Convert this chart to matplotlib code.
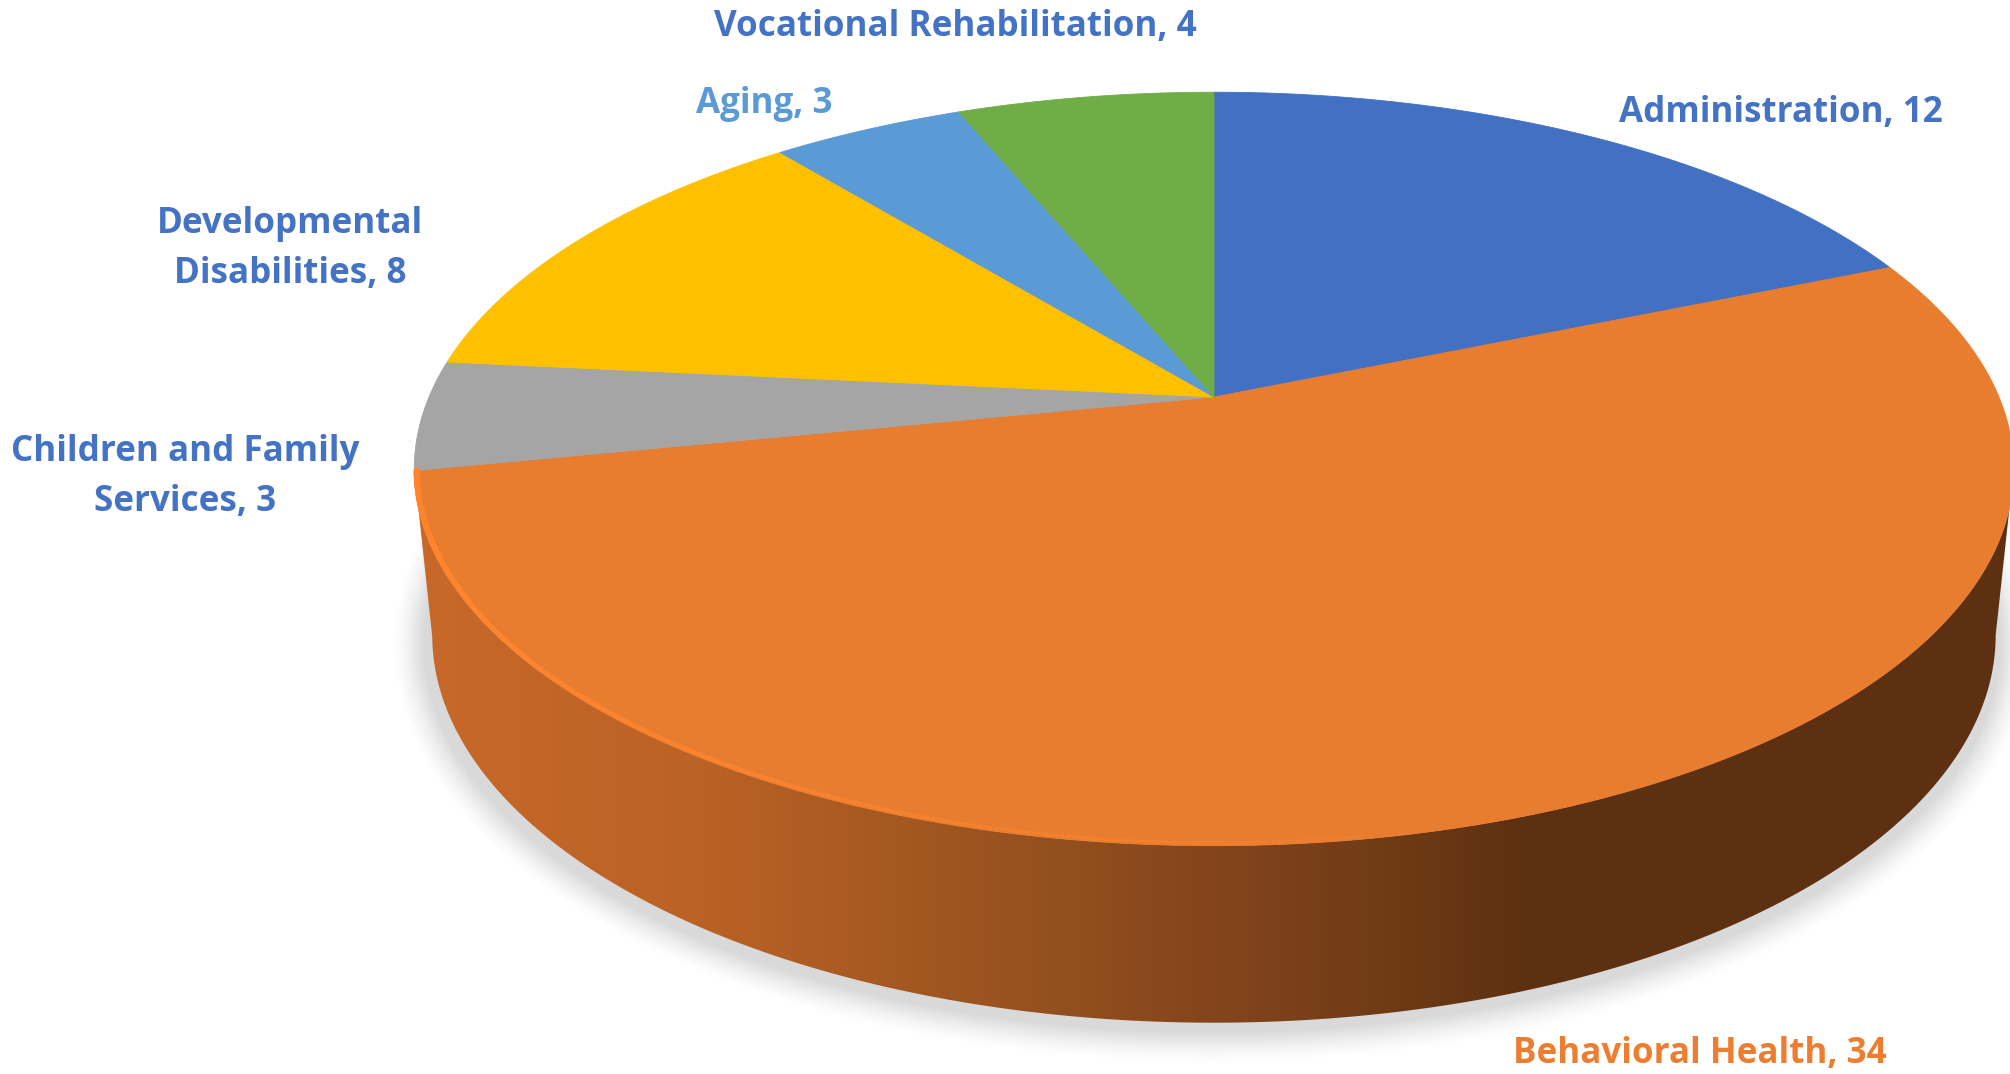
import numpy as np
import matplotlib
matplotlib.use("Agg")
import matplotlib.pyplot as plt
from matplotlib.collections import LineCollection
from matplotlib.colors import LinearSegmentedColormap
from matplotlib.patches import Polygon

plt.rcParams["font.family"] = ["Open Sans", "DejaVu Sans"]

categories = ["Administration", "Behavioral Health", "Children and Family Services",
              "Developmental Disabilities", "Aging", "Vocational Rehabilitation"]
values = [12, 34, 3, 8, 3, 4]
colors = ["#4270C2", "#E87C2F", "#A5A5A5", "#FFC000", "#5B9BD5", "#70AD47"]

# text for each label, its colour and where it sits in image pixels
label_text = ["Administration, 12", "Behavioral Health, 34", "Children and Family\nServices, 3",
              "Developmental\nDisabilities, 8", "Aging, 3", "Vocational Rehabilitation, 4"]
label_color = ["#4472C4", "#ED7D31", "#4472C4", "#4472C4", "#5B9BD5", "#4472C4"]
label_pos = [(1781, 113), (1700, 1054), (185, 477), (290, 249), (764, 104), (955, 27)]

W, H = 2010, 1074

# pie centre and perspective tilt
CX, CY = 1214, 397
A, B, K = 785, 363, 0.191
# the bottom rim is the top ellipse shrunk and moved down
TOP_ELL = (1212, 469, 800, 377)
BOT_ELL = (1212, 635, 782, 388)


def project(theta):
    # theta in radians, clockwise from straight up
    u, v = np.sin(theta), np.cos(theta)
    w = 1 + K * v
    return CX + A * u / w, CY - B * v / w


def to_bottom(x, y):
    sx = BOT_ELL[2] / TOP_ELL[2]
    sy = BOT_ELL[3] / TOP_ELL[3]
    return BOT_ELL[0] + (x - TOP_ELL[0]) * sx, BOT_ELL[1] + (y - TOP_ELL[1]) * sy


fig = plt.figure(figsize=(W / 100, H / 100), dpi=100)
ax = fig.add_axes([0, 0, 1, 1])

# soft shadow under the pie
xx, yy = np.meshgrid(np.arange(W) + 0.5, np.arange(H) + 0.5)
sh_cx, sh_cy, sh_a, sh_b = 1212, 644, 792, 392
r = np.sqrt(((xx - sh_cx) / sh_a) ** 2 + ((yy - sh_cy) / sh_b) ** 2)
grad = np.sqrt(((xx - sh_cx) / sh_a ** 2) ** 2 + ((yy - sh_cy) / sh_b ** 2) ** 2) / np.maximum(r, 1e-6)
dist = (r - 1) / np.maximum(grad, 1e-6)
fade = np.clip(1 - (dist + 4) / 32, 0, 1)
shadow = np.zeros((H, W, 4))
shadow[..., 3] = 0.15 * fade ** 1.4
ax.imshow(shadow, extent=(0, W, H, 0), zorder=1, interpolation="nearest")

# side wall of the orange slice, shaded left to right
fractions = np.cumsum([0] + values) / sum(values) * 2 * np.pi
th_wall = np.linspace(fractions[2], np.radians(101), 300)
x_top, y_top = project(th_wall)
x_bot, y_bot = to_bottom(x_top, y_top)
wall = Polygon(np.r_[np.c_[x_top, y_top], np.c_[x_bot, y_bot][::-1]], closed=True,
               transform=ax.transData, facecolor="none", edgecolor="none")
ax.add_patch(wall)
wall_cmap = LinearSegmentedColormap.from_list("wall", [
    (0.00, "#C8692A"), (0.18, "#BB6225"), (0.38, "#97521F"), (0.50, "#84451C"),
    (0.62, "#6E3A15"), (0.70, "#5C3011"), (1.00, "#5C3011")])
img = ax.imshow(np.linspace(0, 1, 512)[None, :], cmap=wall_cmap, aspect="auto",
                extent=(410, 2010, 1074, 0), zorder=2)
img.set_clip_path(wall)

# top face, one slice per value
for i, col in enumerate(colors):
    th = np.linspace(fractions[i], fractions[i + 1], 200)
    x, y = project(th)
    ax.fill(np.r_[CX, x], np.r_[CY, y], facecolor=col, edgecolor=col, linewidth=0.6, zorder=3)

# bright rim along the front left edge
th_rim = np.linspace(fractions[2], np.pi * 0.95, 240)
x_rim, y_rim = project(th_rim)
pts = np.c_[x_rim + (TOP_ELL[0] - x_rim) * 0.003, y_rim + (TOP_ELL[1] - y_rim) * 0.008]
segs = np.stack([pts[:-1], pts[1:]], axis=1)
rim_rgba = np.tile(np.array([1.0, 0.52, 0.18, 1.0]), (len(segs), 1))
rim_rgba[:, 3] = np.linspace(1, 0.25, len(segs))
ax.add_collection(LineCollection(segs, colors=rim_rgba, linewidths=np.linspace(4.5, 2.0, len(segs)),
                                 zorder=4, capstyle="round"))

for txt, col, (lx, ly) in zip(label_text, label_color, label_pos):
    ax.text(lx, ly, txt, color=col, fontsize=25.2, fontweight="bold", ha="center", va="center",
            multialignment="center", linespacing=1.49, zorder=5)

ax.set_xlim(0, W)
ax.set_ylim(H, 0)
ax.axis("off")

fig.savefig("out.png", dpi=100, facecolor="white")
